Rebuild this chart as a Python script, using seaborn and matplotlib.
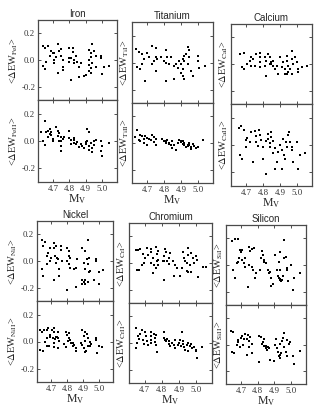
import pandas as pd
import seaborn as sns
import matplotlib.pyplot as plt

# ---- data: M_V vs <dEW>, neutral (I) and ionised (II) ----
fe1_mv = [4.64, 4.65, 4.67, 4.69, 4.68, 4.66, 4.64, 4.65, 4.70, 4.71, 4.73, 4.74, 4.72, 4.71, 4.71, 4.73, 4.75, 4.75, 4.76, 4.76, 4.76, 4.80, 4.82, 4.82, 4.80, 4.81, 4.83, 4.80, 4.83, 4.84, 4.85, 4.87, 4.86, 4.81, 4.86, 4.89, 4.92, 4.93, 4.94, 4.95, 4.93, 4.92, 4.94, 4.96, 4.93, 4.92, 4.93, 4.90, 4.92, 4.99, 4.99, 5.00, 5.01, 5.04, 4.96]
fe1_dew = [0.107, 0.093, 0.105, 0.070, 0.033, -0.013, -0.045, -0.070, 0.055, 0.050, 0.118, 0.070, 0.025, 0.000, -0.025, -0.095, 0.080, 0.030, 0.000, -0.055, -0.075, 0.093, 0.088, 0.063, 0.013, 0.013, 0.000, -0.013, -0.020, 0.030, -0.013, -0.025, -0.050, -0.150, -0.125, -0.120, 0.075, 0.050, 0.118, 0.068, 0.020, 0.000, -0.020, -0.050, -0.063, -0.080, -0.095, -0.113, -0.038, 0.033, 0.013, -0.108, -0.055, -0.045, 0.030]

fe2_mv = [4.63, 4.64, 4.65, 4.65, 4.66, 4.67, 4.68, 4.68, 4.67, 4.69, 4.69, 4.70, 4.70, 4.72, 4.73, 4.73, 4.74, 4.74, 4.75, 4.75, 4.75, 4.75, 4.76, 4.77, 4.80, 4.80, 4.81, 4.81, 4.83, 4.83, 4.83, 4.84, 4.85, 4.86, 4.87, 4.88, 4.89, 4.90, 4.90, 4.91, 4.92, 4.92, 4.93, 4.94, 4.94, 4.95, 4.95, 4.91, 4.92, 4.96, 4.99, 4.99, 5.00, 5.00, 5.04]
fe2_dew = [0.063, 0.000, -0.030, 0.145, 0.063, 0.075, 0.088, 0.050, 0.030, 0.063, 0.043, 0.013, 0.000, 0.100, 0.070, 0.038, 0.000, 0.055, 0.030, 0.000, -0.033, -0.070, 0.013, 0.030, 0.075, 0.020, 0.005, -0.025, 0.020, -0.013, 0.005, -0.020, -0.005, -0.045, -0.020, -0.038, -0.050, -0.025, -0.005, 0.000, -0.038, -0.063, -0.013, -0.050, -0.080, -0.030, 0.000, 0.088, 0.063, 0.005, 0.000, -0.070, -0.113, -0.038, -0.013]

ti1_mv = [4.635, 4.65, 4.67, 4.70, 4.73, 4.75, 4.75, 4.68, 4.67, 4.64, 4.66, 4.73, 4.74, 4.76, 4.69, 4.75, 4.81, 4.82, 4.80, 4.81, 4.83, 4.84, 4.86, 4.87, 4.81, 4.86, 4.91, 4.94, 4.95, 4.92, 4.91, 4.92, 4.95, 4.94, 4.90, 4.91, 4.92, 4.96, 4.97, 5.00, 5.00, 5.01, 5.04, 4.89, 4.90, 4.93, 4.71, 4.78, 4.88]
ti1_dew = [0.100, 0.075, 0.063, 0.068, 0.120, 0.105, 0.038, 0.025, -0.013, -0.030, -0.050, -0.013, 0.013, 0.025, -0.138, -0.063, 0.093, 0.043, 0.013, 0.000, -0.013, 0.038, -0.025, -0.013, -0.138, -0.125, -0.050, 0.113, 0.093, 0.050, 0.025, 0.013, 0.038, -0.013, -0.075, -0.100, -0.125, -0.063, -0.100, 0.050, 0.013, -0.038, -0.025, 0.013, -0.013, 0.063, 0.043, 0.043, -0.038]

ti2_mv = [4.63, 4.64, 4.65, 4.66, 4.67, 4.68, 4.68, 4.66, 4.69, 4.70, 4.71, 4.72, 4.70, 4.73, 4.74, 4.74, 4.75, 4.75, 4.79, 4.80, 4.81, 4.81, 4.82, 4.83, 4.83, 4.84, 4.85, 4.85, 4.86, 4.89, 4.90, 4.90, 4.91, 4.91, 4.92, 4.92, 4.93, 4.94, 4.94, 4.95, 4.95, 4.96, 4.96, 4.97, 4.98, 4.99, 5.00, 5.03, 4.88, 4.87]
ti2_dew = [0.043, 0.100, 0.025, 0.063, 0.050, 0.033, 0.000, 0.013, 0.050, 0.038, 0.033, 0.025, -0.013, 0.058, 0.008, 0.048, 0.033, -0.018, 0.033, 0.018, 0.013, 0.000, 0.025, -0.008, 0.000, -0.018, 0.013, -0.038, -0.018, 0.025, 0.005, 0.018, -0.008, 0.013, -0.018, 0.000, -0.033, -0.013, -0.025, 0.000, -0.018, -0.043, -0.033, -0.008, -0.025, -0.038, -0.033, 0.025, 0.000, -0.050]

ca1_mv = [4.665, 4.685, 4.675, 4.685, 4.705, 4.72, 4.73, 4.73, 4.74, 4.75, 4.76, 4.78, 4.78, 4.78, 4.78, 4.81, 4.81, 4.82, 4.82, 4.83, 4.84, 4.84, 4.85, 4.85, 4.86, 4.86, 4.87, 4.88, 4.89, 4.90, 4.91, 4.92, 4.93, 4.93, 4.94, 4.94, 4.95, 4.95, 4.96, 4.97, 4.97, 4.98, 4.99, 5.00, 5.01, 5.01, 5.03, 5.06, 4.97, 4.94]
ca1_dew = [0.075, 0.080, -0.025, -0.038, 0.000, 0.025, 0.050, -0.013, 0.038, -0.013, 0.075, 0.080, 0.013, 0.050, -0.025, 0.055, -0.013, 0.025, -0.088, 0.075, 0.000, 0.050, 0.013, 0.000, -0.013, 0.025, -0.038, -0.013, -0.075, 0.050, -0.025, 0.013, -0.075, -0.038, 0.063, 0.025, -0.013, -0.063, -0.038, 0.095, 0.038, 0.000, 0.055, 0.013, -0.038, -0.063, -0.025, -0.013, -0.075, -0.075]

ca2_mv = [4.66, 4.67, 4.685, 4.665, 4.675, 4.70, 4.70, 4.705, 4.72, 4.73, 4.74, 4.75, 4.76, 4.76, 4.77, 4.775, 4.78, 4.79, 4.80, 4.80, 4.82, 4.83, 4.83, 4.84, 4.84, 4.85, 4.85, 4.86, 4.86, 4.87, 4.82, 4.87, 4.88, 4.89, 4.90, 4.91, 4.92, 4.925, 4.93, 4.935, 4.94, 4.95, 4.955, 4.96, 4.97, 4.97, 4.98, 5.00, 5.01, 5.02, 5.05, 4.91]
ca2_dew = [0.125, 0.138, 0.113, -0.075, -0.100, -0.013, 0.038, 0.050, 0.025, 0.095, -0.125, 0.100, 0.063, 0.025, -0.005, 0.113, 0.075, 0.038, -0.100, -0.013, 0.030, 0.080, 0.045, 0.013, -0.013, 0.095, 0.055, 0.030, -0.055, -0.025, -0.213, -0.175, -0.125, -0.050, 0.000, -0.038, 0.045, -0.075, -0.100, 0.025, -0.013, 0.075, 0.095, 0.025, -0.013, -0.038, -0.125, 0.025, -0.175, -0.075, -0.055, -0.175]

ni1_mv = [4.64, 4.65, 4.66, 4.64, 4.65, 4.67, 4.675, 4.68, 4.69, 4.695, 4.70, 4.715, 4.72, 4.725, 4.73, 4.73, 4.735, 4.72, 4.745, 4.75, 4.75, 4.76, 4.76, 4.765, 4.80, 4.81, 4.81, 4.82, 4.80, 4.81, 4.82, 4.80, 4.845, 4.855, 4.865, 4.855, 4.895, 4.915, 4.905, 4.91, 4.925, 4.93, 4.935, 4.94, 4.895, 4.905, 4.915, 4.895, 4.915, 4.935, 4.94, 4.945, 4.98, 4.985, 5.00, 5.00, 5.025, 4.97]
ni1_dew = [0.158, 0.110, 0.146, -0.061, -0.110, 0.037, -0.020, 0.061, 0.000, 0.098, 0.024, 0.098, 0.134, 0.037, 0.110, -0.012, 0.024, -0.146, 0.012, -0.061, -0.110, 0.110, 0.085, 0.000, 0.098, 0.073, 0.037, 0.024, 0.000, -0.020, -0.049, -0.215, -0.061, -0.049, 0.012, -0.195, 0.098, 0.073, -0.012, -0.061, 0.012, -0.024, 0.158, 0.024, -0.141, -0.158, -0.141, -0.170, -0.170, -0.158, -0.085, -0.073, 0.012, 0.000, -0.170, -0.085, -0.068, -0.146]

ni2_mv = [4.63, 4.64, 4.655, 4.67, 4.68, 4.69, 4.695, 4.675, 4.66, 4.63, 4.65, 4.67, 4.685, 4.705, 4.71, 4.715, 4.715, 4.72, 4.725, 4.73, 4.735, 4.74, 4.745, 4.75, 4.715, 4.74, 4.795, 4.80, 4.81, 4.815, 4.805, 4.82, 4.78, 4.795, 4.825, 4.835, 4.84, 4.845, 4.855, 4.855, 4.895, 4.905, 4.915, 4.925, 4.93, 4.915, 4.885, 4.895, 4.905, 4.91, 4.92, 4.93, 4.945, 4.945, 4.95, 4.98, 4.98, 4.99, 5.00, 5.02]
ni2_dew = [0.085, 0.073, 0.085, 0.085, 0.098, 0.037, 0.049, 0.029, -0.005, -0.061, -0.068, -0.037, -0.037, 0.085, 0.024, 0.098, 0.073, -0.012, 0.020, 0.037, 0.037, 0.068, 0.024, 0.005, -0.044, -0.049, 0.068, 0.049, 0.061, 0.029, 0.005, 0.012, -0.020, -0.044, -0.012, -0.037, -0.012, -0.024, -0.049, -0.073, 0.085, 0.044, 0.068, 0.054, 0.024, 0.005, -0.012, -0.029, -0.049, -0.078, -0.068, -0.037, 0.000, -0.037, -0.020, 0.029, 0.012, -0.085, -0.037, -0.044]

cr1_mv = [4.65, 4.66, 4.675, 4.655, 4.665, 4.685, 4.69, 4.695, 4.705, 4.715, 4.72, 4.74, 4.74, 4.75, 4.74, 4.755, 4.765, 4.77, 4.775, 4.765, 4.77, 4.775, 4.75, 4.805, 4.81, 4.815, 4.82, 4.825, 4.83, 4.84, 4.84, 4.845, 4.865, 4.875, 4.89, 4.87, 4.815, 4.905, 4.915, 4.92, 4.93, 4.935, 4.945, 4.95, 4.95, 4.96, 4.945, 4.95, 4.97, 4.98, 4.985, 5.00, 5.005, 5.01, 5.04, 5.055, 4.97, 4.78]
cr1_dew = [0.098, 0.098, 0.105, -0.049, -0.056, -0.012, 0.066, 0.000, 0.037, 0.110, 0.061, 0.105, 0.085, 0.041, 0.000, -0.012, 0.122, 0.066, 0.090, -0.037, 0.012, 0.024, -0.073, 0.012, 0.049, 0.012, 0.105, 0.080, 0.017, -0.007, 0.037, 0.073, 0.012, -0.012, -0.041, -0.098, -0.129, -0.098, -0.037, 0.085, 0.037, 0.012, 0.000, 0.110, 0.061, -0.012, -0.061, -0.066, -0.066, 0.037, 0.000, 0.049, 0.024, -0.105, -0.032, -0.032, 0.073, -0.012]

cr2_mv = [4.65, 4.66, 4.665, 4.655, 4.65, 4.675, 4.685, 4.69, 4.695, 4.705, 4.71, 4.715, 4.72, 4.735, 4.74, 4.74, 4.74, 4.755, 4.76, 4.76, 4.765, 4.77, 4.765, 4.81, 4.815, 4.82, 4.825, 4.83, 4.84, 4.84, 4.845, 4.86, 4.87, 4.875, 4.915, 4.905, 4.90, 4.91, 4.92, 4.925, 4.93, 4.935, 4.945, 4.95, 4.95, 4.96, 4.97, 4.975, 4.985, 4.995, 5.00, 5.005, 5.03, 4.895, 4.875]
cr2_dew = [0.115, 0.056, 0.032, 0.000, -0.037, 0.066, 0.098, 0.024, -0.007, 0.080, 0.049, 0.017, -0.012, 0.080, 0.049, 0.024, 0.000, 0.066, 0.037, 0.007, -0.017, -0.066, 0.061, 0.080, 0.037, 0.024, 0.017, 0.032, -0.007, 0.012, -0.024, 0.000, -0.012, 0.024, 0.080, 0.024, 0.000, -0.024, -0.007, 0.012, -0.032, -0.049, -0.017, 0.000, -0.061, -0.024, -0.007, -0.041, -0.032, -0.049, -0.061, -0.115, -0.032, -0.017, -0.037]

si1_mv = [4.647, 4.662, 4.683, 4.652, 4.662, 4.673, 4.683, 4.687, 4.694, 4.70, 4.704, 4.708, 4.72, 4.725, 4.725, 4.74, 4.746, 4.75, 4.757, 4.763, 4.767, 4.77, 4.778, 4.788, 4.784, 4.814, 4.82, 4.826, 4.83, 4.835, 4.84, 4.85, 4.862, 4.868, 4.873, 4.877, 4.877, 4.894, 4.904, 4.915, 4.925, 4.932, 4.92, 4.925, 4.932, 4.936, 4.94, 4.946, 4.953, 4.957, 4.96, 4.967, 4.974, 4.978, 4.982, 5.00, 5.01, 5.02, 5.052, 4.936]
si1_dew = [0.183, 0.195, 0.195, -0.037, -0.098, 0.012, 0.024, 0.054, 0.110, 0.098, 0.110, 0.037, 0.012, -0.012, 0.054, -0.166, 0.134, 0.000, 0.102, 0.122, -0.012, -0.037, 0.127, -0.061, -0.098, -0.037, 0.049, 0.102, 0.073, 0.037, 0.024, 0.012, -0.037, -0.061, -0.049, -0.098, -0.159, -0.141, 0.073, -0.037, 0.024, -0.037, -0.085, -0.098, -0.110, -0.102, -0.122, -0.110, -0.085, 0.190, 0.049, 0.061, -0.037, -0.024, -0.122, 0.000, -0.190, -0.098, -0.061, 0.098]

si2_mv = [4.64, 4.652, 4.645, 4.658, 4.673, 4.68, 4.683, 4.694, 4.70, 4.708, 4.715, 4.72, 4.725, 4.736, 4.742, 4.746, 4.75, 4.757, 4.763, 4.767, 4.736, 4.81, 4.82, 4.826, 4.83, 4.835, 4.84, 4.847, 4.85, 4.856, 4.862, 4.868, 4.81, 4.873, 4.904, 4.91, 4.915, 4.92, 4.925, 4.932, 4.936, 4.94, 4.946, 4.953, 4.957, 4.96, 4.967, 4.974, 4.978, 4.99, 4.995, 5.01, 5.02, 5.052, 4.898, 4.936]
si2_dew = [0.105, 0.098, -0.054, -0.066, -0.005, 0.020, 0.032, -0.017, 0.049, 0.068, 0.000, 0.039, 0.080, 0.039, 0.073, -0.017, 0.024, 0.056, 0.007, -0.066, -0.083, 0.068, 0.056, 0.007, 0.020, -0.010, 0.039, -0.029, -0.010, -0.041, -0.017, -0.024, -0.132, -0.115, 0.000, 0.039, -0.029, -0.054, -0.090, -0.078, -0.102, -0.066, 0.024, 0.049, 0.088, -0.017, -0.054, -0.090, 0.032, 0.007, 0.020, -0.090, -0.151, -0.049, -0.122, 0.007]

x_ticks = [4.7, 4.8, 4.9, 5.0]
y_ticks = [-0.2, 0.0, 0.2]

# title, element symbol, (I data), (II data), box in pixels: left, right, top, split, bottom
panels = [
    ("Iron", "Fe", (fe1_mv, fe1_dew), (fe2_mv, fe2_dew), (38, 117, 20, 100, 182)),
    ("Titanium", "Ti", (ti1_mv, ti1_dew), (ti2_mv, ti2_dew), (132, 213, 22, 103, 183)),
    ("Calcium", "Ca", (ca1_mv, ca1_dew), (ca2_mv, ca2_dew), (231, 312, 24, 104, 186)),
    ("Nickel", "Ni", (ni1_mv, ni1_dew), (ni2_mv, ni2_dew), (37, 113, 221, 301, 382)),
    ("Chromium", "Cr", (cr1_mv, cr1_dew), (cr2_mv, cr2_dew), (129, 212, 223, 303, 383)),
    ("Silicon", "Si", (si1_mv, si1_dew), (si2_mv, si2_dew), (226, 306, 225, 305, 384)),
]

W, H = 328, 407

sns.set_style("ticks")
plt.rcParams["font.family"] = ["Liberation Serif", "DejaVu Serif"]
plt.rcParams["mathtext.fontset"] = "stix"
plt.rcParams["axes.unicode_minus"] = False

fig = plt.figure(figsize=(W / 100, H / 100), dpi=100)
fig.patch.set_facecolor("white")


def style_axes(ax, show_x, show_y):
    ax.set_xlim(4.61, 5.09)
    ax.set_ylim(-0.3, 0.3)
    ax.set_xticks(x_ticks)
    ax.set_yticks(y_ticks)
    ax.tick_params(direction="in", top=True, right=True, length=2.5, width=0.6,
                   labelsize=6.3, pad=2, colors="#333333")
    ax.tick_params(labelbottom=show_x, labelleft=show_y)
    if show_y:
        ax.set_yticklabels(["-0.2", "0.0", "0.2"])
    for sp in ax.spines.values():
        sp.set_color("#4a4a4a")
        sp.set_linewidth(0.9)


for col, (title, sym, d1, d2, box) in enumerate(panels):
    left, right, top, mid, bottom = box
    x0 = left / W
    w = (right - left) / W
    ax_top = fig.add_axes([x0, 1 - mid / H, w, (mid - top) / H])
    ax_bot = fig.add_axes([x0, 1 - bottom / H, w, (bottom - mid) / H])
    first_col = col % 3 == 0

    for ax, (mv, dew), ion in [(ax_top, d1, "I"), (ax_bot, d2, "II")]:
        df = pd.DataFrame({"mv": mv, "dew": dew})
        sns.scatterplot(data=df, x="mv", y="dew", ax=ax, marker="s", s=4.5,
                        color="black", linewidth=0, legend=False)
        style_axes(ax, show_x=(ion == "II"), show_y=first_col)
        ax.set_ylabel(r"<$\Delta$EW$_{\mathrm{" + sym + ion + r"}}$>",
                      fontsize=7.5, labelpad=1)
        ax.set_xlabel("")

    ax_bot.set_xlabel(r"M$_{\mathrm{V}}$", fontsize=8.5, labelpad=0)
    ax_top.set_title(title, fontsize=7, family="Liberation Sans", pad=2.5)

fig.savefig("out.png", dpi=100, facecolor="white")
